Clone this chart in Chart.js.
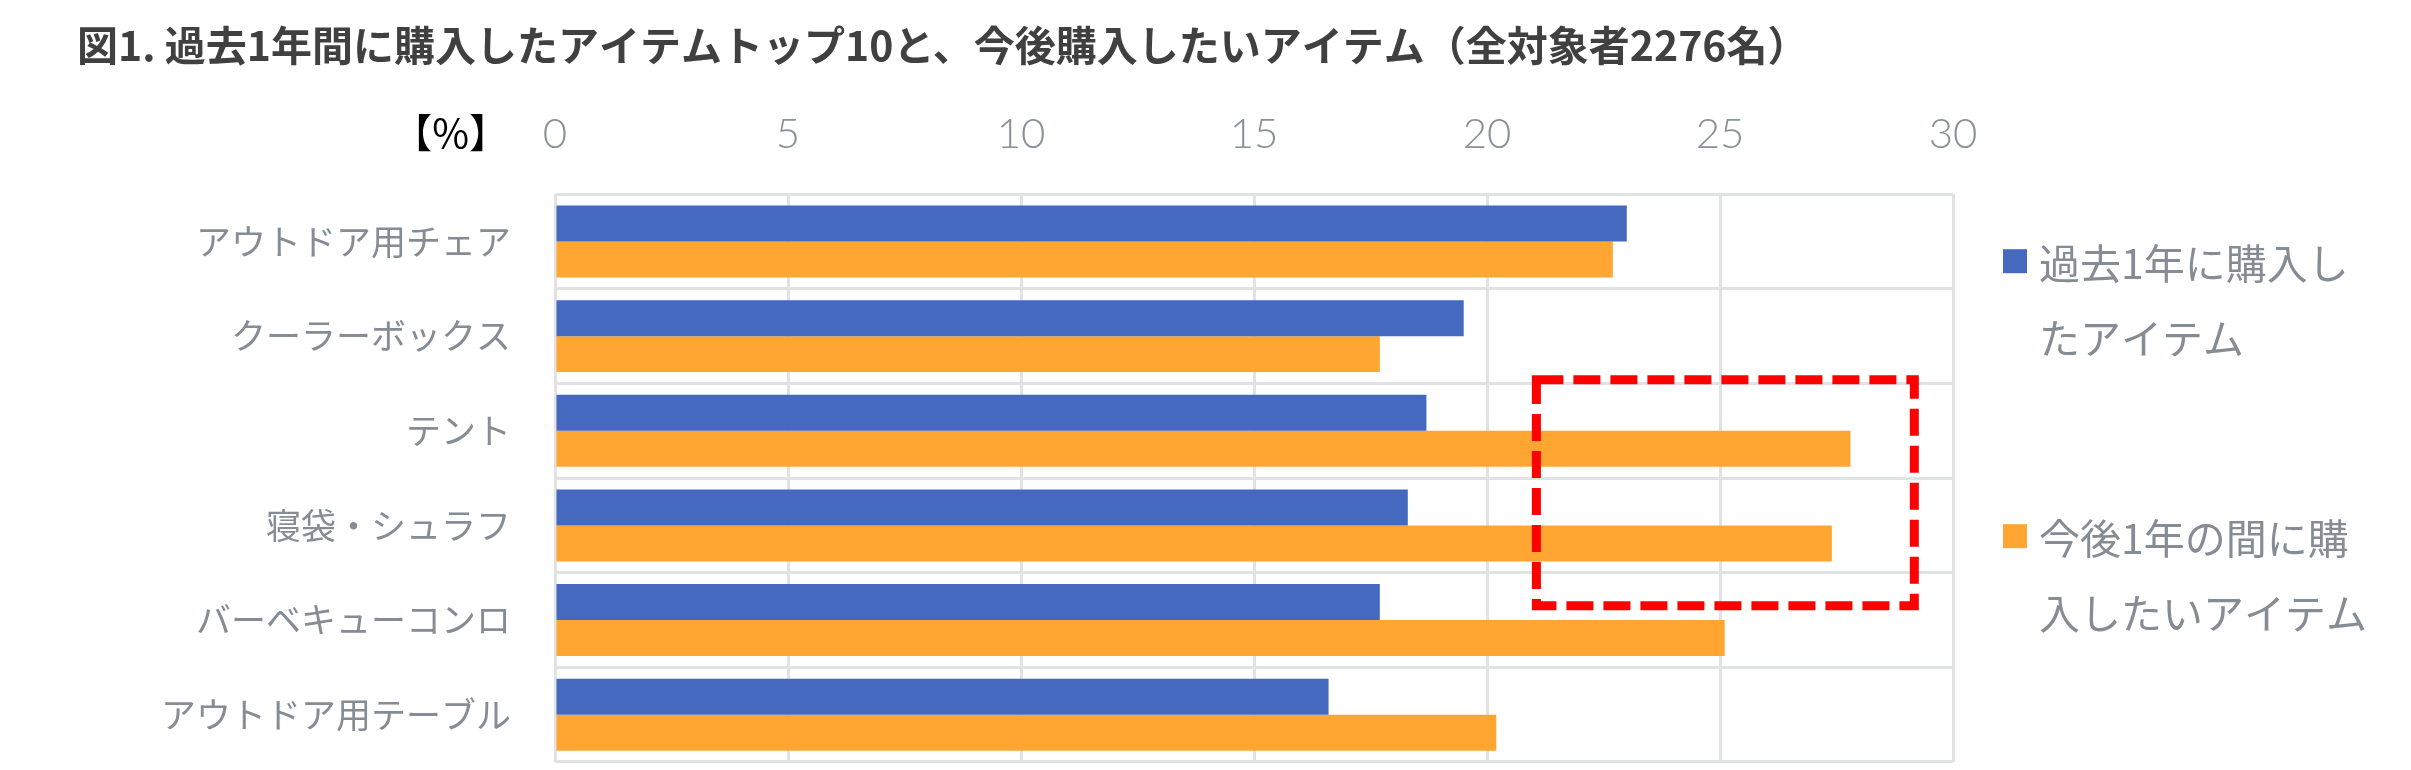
<!DOCTYPE html>
<html lang="ja">
<head>
<meta charset="utf-8">
<script src="https://cdn.jsdelivr.net/npm/chart.js@4.4.1/dist/chart.umd.min.js"></script>
<style>
  html, body { margin: 0; padding: 0; background: #ffffff; }
  #wrap { width: 2411px; height: 770px; }
</style>
</head>
<body>
<div id="wrap"><canvas id="myChart" width="2411" height="770"></canvas></div>
<script>
// categories, top to bottom
var itemList = ['アウトドア用チェア', 'クーラーボックス', 'テント', '寝袋・シュラフ', 'バーベキューコンロ', 'アウトドア用テーブル'];

// % of all respondents (2276)
var pastYear = [23.0, 19.5, 18.7, 18.3, 17.7, 16.6];
var nextYear = [22.7, 17.7, 27.8, 27.4, 25.1, 20.2];

var seriesNames = ['過去1年に購入したアイテム', '今後1年の間に購入したいアイテム'];
// how the legend wraps each name
var legendLines = [['過去1年に購入し', 'たアイテム'], ['今後1年の間に購', '入したいアイテム']];

var xTicks = [0, 5, 10, 15, 20, 25, 30];
var unitLabel = '【%】';
var titleText = '図1. 過去1年間に購入したアイテムトップ10と、今後購入したいアイテム（全対象者2276名）';

// highlighted region: x from / to (%), y from / to (category index)
var boxX = [21.06, 29.17];
var boxY = [1.46, 3.85];

var gridColor = '#e1e2e4';
var textGray = '#868c94';

// red dashed box, unit label and the wrapped legend
const extrasPlugin = {
	id: 'extras',
	afterDatasetsDraw: function (chart) {
		var ctx = chart.ctx;
		var x = chart.scales.x;
		var y = chart.scales.y;
		var x1 = x.getPixelForValue(boxX[0]);
		var x2 = x.getPixelForValue(boxX[1]);
		var y1 = y.getPixelForValue(boxY[0]);
		var y2 = y.getPixelForValue(boxY[1]);
		ctx.save();
		ctx.strokeStyle = '#ff0000';
		ctx.lineWidth = 9;
		ctx.setLineDash([27, 10]);
		ctx.strokeRect(x1, y1, x2 - x1, y2 - y1);
		ctx.restore();
	},
	afterDraw: function (chart) {
		var ctx = chart.ctx;
		var area = chart.chartArea;
		ctx.save();

		// 【%】 beside the top axis
		ctx.fillStyle = '#000000';
		ctx.font = "40px 'Noto Sans CJK JP'";
		ctx.textAlign = 'right';
		ctx.textBaseline = 'middle';
		ctx.fillText(unitLabel, area.left - 46, area.top - 61);

		// legend
		ctx.textAlign = 'left';
		ctx.font = "41px 'Noto Sans CJK JP'";
		var ds = chart.data.datasets;
		for (var i = 0; i < ds.length; i++) {
			var top = area.top + 67 + i * 275;
			ctx.fillStyle = ds[i].backgroundColor;
			ctx.fillRect(area.right + 50, top - 12, 24, 24);
			ctx.fillStyle = textGray;
			var lines = legendLines[i];
			for (var j = 0; j < lines.length; j++) {
				ctx.fillText(lines[j], area.right + 86, top + 2 + j * 75);
			}
		}
		ctx.restore();
	}
};

function noEdgePadding (scale) {
	scale.paddingTop = 0;
	scale.paddingBottom = 0;
	scale.paddingLeft = 0;
	scale.paddingRight = 0;
}

const cdata = {
	labels: itemList,
	datasets: [{
		label: seriesNames[0],
		data: pastYear,
		backgroundColor: '#4469bf'
	}, {
		label: seriesNames[1],
		data: nextYear,
		backgroundColor: '#ffa532'
	}]
};

const cconfig = {
	type: 'bar',
	data: cdata,
	plugins: [extrasPlugin],
	options: {
		indexAxis: 'y',
		responsive: false,
		devicePixelRatio: 1,
		animation: false,
		categoryPercentage: 0.76,
		barPercentage: 1.0,
		layout: {
			padding: { left: 77, right: 458, top: 0, bottom: 8 }
		},
		scales: {
			x: {
				position: 'top',
				min: 0,
				max: 30,
				afterBuildTicks: function (scale) {
					scale.ticks = xTicks.map(function (v) { return { value: v }; });
				},
				afterFit: function (scale) {
					scale.height = 124;
					noEdgePadding(scale);
				},
				grid: { color: gridColor, lineWidth: 3, drawTicks: false },
				border: { display: false },
				ticks: {
					padding: 35,
					color: '#8a9098',
					font: { family: 'Lato', weight: '300', size: 42, lineHeight: 1.2 }
				}
			},
			y: {
				afterFit: function (scale) {
					scale.width = 478;
					noEdgePadding(scale);
				},
				grid: { color: gridColor, lineWidth: 3, drawTicks: false },
				border: { display: false },
				ticks: {
					padding: 44,
					color: textGray,
					font: { family: "'Noto Sans CJK JP'", size: 35 }
				}
			}
		},
		plugins: {
			legend: { display: false },
			tooltip: { enabled: false },
			title: {
				display: true,
				text: titleText,
				align: 'start',
				color: '#404040',
				padding: { top: 21, bottom: 0 },
				font: { family: "'Noto Sans CJK JP'", weight: 'bold', size: 41, lineHeight: 1.2 }
			}
		}
	}
};

const myChart = new Chart(
	document.getElementById('myChart').getContext('2d'),
	cconfig
);
</script>
</body>
</html>
